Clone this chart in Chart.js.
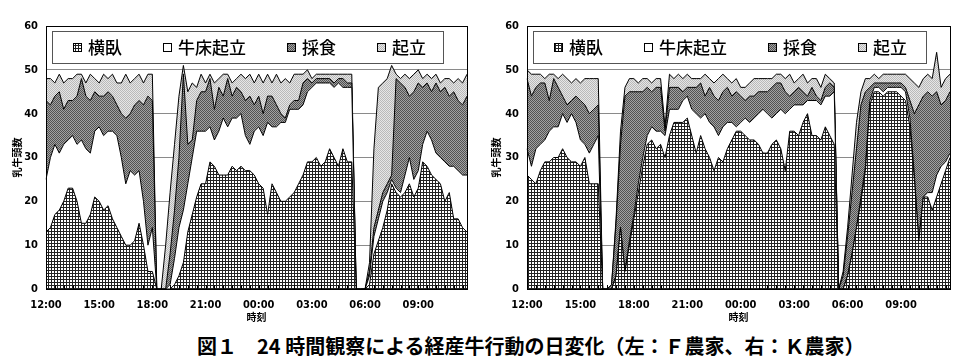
<!DOCTYPE html>
<html>
<head>
<meta charset="utf-8">
<script src="https://cdn.jsdelivr.net/npm/chart.js@4.4.1/dist/chart.umd.min.js"></script>
<style>
  body { margin: 0; background: #fff; width: 971px; height: 361px; position: relative; overflow: hidden; }
  #chartF { position: absolute; left: 0; top: 0; }
  #chartK { position: absolute; left: 480px; top: 0; }
  .caption { position: absolute; left: 197px; top: 331px; font: bold 20px "Noto Sans CJK JP"; white-space: nowrap; color: #000; }
</style>
</head>
<body>
<canvas id="chartF" width="480" height="325"></canvas>
<canvas id="chartK" width="491" height="325"></canvas>
<div class="caption">図１　24 時間観察による経産牛行動の日変化（左：Ｆ農家、右：Ｋ農家）</div>
<script>
// 15 minute steps, 12:00 -> 11:45 next day
const times = [
  '12:00','12:15','12:30','12:45','13:00','13:15','13:30','13:45','14:00','14:15','14:30','14:45',
  '15:00','15:15','15:30','15:45','16:00','16:15','16:30','16:45','17:00','17:15','17:30','17:45',
  '18:00','18:15','18:30','18:45','19:00','19:15','19:30','19:45','20:00','20:15','20:30','20:45',
  '21:00','21:15','21:30','21:45','22:00','22:15','22:30','22:45','23:00','23:15','23:30','23:45',
  '00:00','00:15','00:30','00:45','01:00','01:15','01:30','01:45','02:00','02:15','02:30','02:45',
  '03:00','03:15','03:30','03:45','04:00','04:15','04:30','04:45','05:00','05:15','05:30','05:45',
  '06:00','06:15','06:30','06:45','07:00','07:15','07:30','07:45','08:00','08:15','08:30','08:45',
  '09:00','09:15','09:30','09:45','10:00','10:15','10:30','10:45','11:00','11:15','11:30','11:45'
];
const tickLabels = ['12:00','15:00','18:00','21:00','00:00','03:00','06:00','09:00'];
const seriesNames = ['横臥','牛床起立','採食','起立'];

// F farm (left)
const fLying = [
  13,14,17,18,20,23,23,20,15,15,17,21,20,18,19,16,14,12,10,10,11,15,10,4,4,
  0,0,
  0,0,1,3,6,13,17,
  21,24,24,29,28,26,26,26,28,27,28,27,27,26,24,23,17,24,22,20,20,21,22,24,26,29,29,30,28,29,32,30,28,32,29,29,
  0,0,0,
  1,8,11,14,18,24,22,21,22,24,21,23,29,28,26,25,24,20,22,16,16,14,13
];
const fStall = [
  12,16,16,13,13,11,12,13,19,17,14,15,17,17,17,20,21,18,14,17,15,12,10,6,10,
  0,0,
  0,1,6,11,12,11,13,
  15,12,12,8,6,10,13,11,11,12,12,8,6,10,13,12,21,13,15,18,18,20,19,17,16,16,17,17,19,18,15,16,19,14,17,17,
  0,0,0,
  2,4,5,6,4,1,1,1,4,6,4,4,4,8,8,6,6,9,6,12,11,12,13
];
const fEating = [
  18,12,11,14,8,9,8,11,14,12,12,9,7,9,9,8,7,10,15,13,16,16,22,34,29,
  0,0,
  0,7,11,16,31,9,4,
  7,9,9,11,7,10,5,11,5,7,5,8,11,6,7,5,6,7,5,2,1,1,2,2,5,3,1,1,1,1,1,1,1,2,1,1,
  0,0,0,
  1,2,2,2,2,1,25,25,20,14,20,20,13,11,11,16,15,17,16,17,16,16,18
];
const fStanding = [
  5,6,3,4,6,5,5,5,1,3,6,3,3,5,3,5,5,7,10,7,6,6,5,5,6,
  0,0,
  10,14,15,14,2,12,13,
  3,4,2,1,6,2,5,1,3,2,4,5,5,5,5,7,5,3,7,7,9,5,6,6,2,2,1,1,1,1,1,2,1,1,2,2,
  0,0,0,
  2,18,28,25,24,25,1,1,3,4,4,3,2,2,3,2,2,2,4,2,5,5,5
];

// K farm (right)
const kLying = [
  26,25,24,27,29,29,30,30,32,30,29,29,28,30,24,24,24,
  0,0,
  0,3,14,4,10,16,22,28,33,34,32,33,30,
  35,38,38,38,39,35,31,35,32,30,27,30,29,32,34,36,36,35,34,34,33,31,31,33,34,32,27,36,36,35,38,40,35,35,34,37,35,33,
  0,
  0,3,8,14,20,27,42,45,45,44,45,45,45,44,43,37,25,11,21,21,18,21,24,27,30
];
const kStall = [
  6,3,8,6,5,7,7,7,8,8,11,9,6,3,7,9,11,
  0,0,
  0,0,0,0,1,1,2,2,2,3,4,3,5,
  6,3,3,5,5,6,9,4,8,8,10,5,8,6,4,1,2,4,4,5,7,10,9,6,6,9,13,5,6,7,4,3,8,8,8,7,9,12,
  0,
  0,0,0,0,1,1,1,1,1,1,1,1,1,2,2,2,1,0,0,1,4,5,4,2,1
];
const kEating = [
  16,16,14,14,13,7,11,9,4,4,3,6,9,9,9,8,7,
  0,0,
  1,12,19,40,34,28,21,15,11,8,10,10,1,
  5,5,5,2,2,5,6,8,4,8,7,8,8,8,6,8,6,4,6,5,5,4,5,7,7,6,5,3,3,4,3,1,3,1,1,2,3,1,
  0,
  3,9,14,18,21,17,3,1,1,2,1,1,1,1,1,4,14,31,23,23,22,19,14,14,14
];
const kStanding = [
  2,5,3,2,1,6,1,2,5,6,4,4,4,6,8,7,6,
  0,0,
  0,1,3,2,3,3,2,3,2,2,2,2,1,
  3,2,3,3,3,2,2,1,5,2,3,5,4,2,3,3,2,3,3,4,3,3,3,2,2,2,3,5,2,2,4,3,2,4,3,3,1,1,
  0,
  1,2,4,6,3,3,2,2,1,2,2,2,2,2,3,5,7,4,4,4,4,9,4,5,4
];

function makePattern(size, draw) {
  const c = document.createElement('canvas');
  c.width = size;
  c.height = size;
  const g = c.getContext('2d');
  draw(g);
  return g.createPattern(c, 'repeat');
}

// hatch fills like the printed figure
const gridFill = makePattern(3, g => {
  g.fillStyle = '#fff';
  g.fillRect(0, 0, 3, 3);
  g.fillStyle = '#222';
  g.fillRect(0, 0, 3, 1);
  g.fillRect(0, 0, 1, 3);
});
const darkFill = makePattern(2, g => {
  g.fillStyle = '#a2a2a2';
  g.fillRect(0, 0, 2, 2);
  g.fillStyle = '#525252';
  g.fillRect(0, 0, 1, 1);
  g.fillRect(1, 1, 1, 1);
});
const lightFill = makePattern(2, g => {
  g.fillStyle = '#e6e6e6';
  g.fillRect(0, 0, 2, 2);
  g.fillStyle = '#b9b9b9';
  g.fillRect(0, 0, 1, 1);
  g.fillRect(1, 1, 1, 1);
});
const fills = [gridFill, '#ffffff', darkFill, lightFill];

const tickFont = { family: '"Liberation Sans Narrow", "DejaVu Sans Condensed", sans-serif', size: 11, weight: 'bold' };
const titleFont = { family: '"Noto Sans CJK JP", sans-serif', size: 10, weight: 'bold' };

// frame round the plot + small inward ticks every 30 min
const frame = {
  id: 'frame',
  afterDatasetsDraw(chart) {
    const { ctx, chartArea: a, scales: { x } } = chart;
    ctx.save();
    ctx.strokeStyle = '#000';
    ctx.lineWidth = 1;
    ctx.beginPath();
    for (let i = 0; i < chart.data.labels.length; i += 2) {
      const px = Math.round(x.getPixelForValue(i)) + 0.5;
      ctx.moveTo(px, a.bottom);
      ctx.lineTo(px, a.bottom - 4);
    }
    ctx.stroke();
    ctx.strokeRect(Math.round(a.left) + 0.5, Math.round(a.top) + 0.5, Math.round(a.right - a.left), Math.round(a.bottom - a.top));
    ctx.restore();
  }
};

// boxed legend inside the plot area
const boxLegend = {
  id: 'boxLegend',
  afterDraw(chart) {
    const { ctx, chartArea: a } = chart;
    const x0 = Math.round(a.left) + 6, y0 = Math.round(a.top) + 5;
    const w = Math.round(a.right - a.left) - 30, h = 32;
    ctx.save();
    ctx.fillStyle = '#fff';
    ctx.fillRect(x0, y0, w, h);
    ctx.strokeStyle = '#555';
    ctx.lineWidth = 1;
    ctx.strokeRect(x0 + 0.5, y0 + 0.5, w, h);
    ctx.font = '500 17px "Noto Sans CJK JP"';
    ctx.textBaseline = 'middle';
    let x = x0 + 21;
    chart.data.datasets.forEach(ds => {
      ctx.fillStyle = ds.backgroundColor;
      ctx.fillRect(x, y0 + 12, 9, 9);
      ctx.strokeStyle = '#000';
      ctx.strokeRect(x + 0.5, y0 + 12.5, 8, 8);
      ctx.fillStyle = '#000';
      ctx.fillText(ds.label, x + 15, y0 + h / 2 + 1);
      x += 15 + ctx.measureText(ds.label).width + 41;
    });
    ctx.restore();
  }
};

function makeChart(id, series, axisWidth, yTitlePad, padRight) {
  return new Chart(document.getElementById(id), {
    type: 'line',
    data: {
      labels: times,
      datasets: seriesNames.map((name, k) => ({
        label: name,
        data: series[k],
        backgroundColor: fills[k],
        borderColor: '#000',
        borderWidth: 1,
        fill: k === 0 ? 'origin' : '-1',
        pointRadius: 0,
        tension: 0
      }))
    },
    options: {
      responsive: false,
      animation: false,
      devicePixelRatio: 1,
      layout: { padding: { top: 26, right: padRight, left: 0, bottom: 0 } },
      plugins: { legend: { display: false }, tooltip: { enabled: false } },
      scales: {
        x: {
          grid: { display: false, drawTicks: false },
          border: { color: '#000' },
          ticks: {
            autoSkip: false, maxRotation: 0, minRotation: 0, padding: 10,
            color: '#000', font: tickFont,
            callback: (v, i) => tickLabels.includes(times[i]) ? times[i] : ''
          },
          title: { display: true, text: '時刻', color: '#000', font: titleFont, padding: { top: 0, bottom: 2 } },
          afterFit: s => { s.height = 36; }
        },
        y: {
          stacked: true,
          min: 0,
          max: 60,
          ticks: { stepSize: 10, padding: 8, color: '#000', font: tickFont },
          grid: { color: '#8a8a8a', drawTicks: false },
          border: { color: '#000' },
          title: { display: true, text: '乳牛頭数', color: '#000', font: titleFont, padding: { top: yTitlePad, bottom: 0 } },
          afterFit: s => { s.width = axisWidth; }
        }
      }
    },
    plugins: [frame, boxLegend]
  });
}

makeChart('chartF', [fLying, fStall, fEating, fStanding], 46, 11, 13);
makeChart('chartK', [kLying, kStall, kEating, kStanding], 47, 10, 21);
</script>
</body>
</html>
